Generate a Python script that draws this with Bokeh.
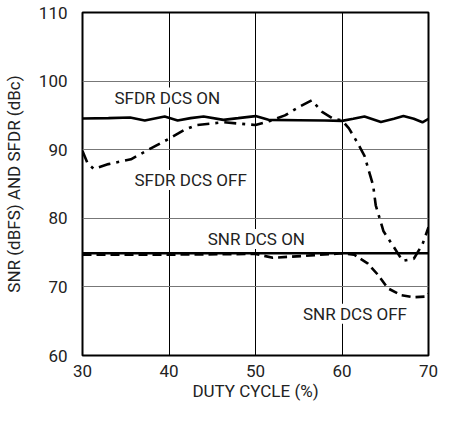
from bokeh.plotting import figure
from bokeh.models import Range1d, FixedTicker, Label
from bokeh.embed import file_html
from bokeh.resources import INLINE

# ---- data ----
x_ticks = [30, 40, 50, 60, 70]
y_ticks = [60, 70, 80, 90, 100, 110]

sfdr_on_x = [30, 33, 35.5, 37.2, 39.5, 41, 42.5, 44, 46.3, 48, 50, 51.5, 55, 58, 60, 61.3, 62.6, 64.5, 66, 67.1, 68.3, 69.3, 70]
sfdr_on_y = [94.55, 94.6, 94.7, 94.25, 94.85, 94.25, 94.6, 94.85, 94.35, 94.6, 94.9, 94.35, 94.3, 94.25, 94.2, 94.5, 94.85, 94.05, 94.5, 94.9, 94.5, 94.0, 94.5]

sfdr_off_x = [30, 30.6, 31.3, 33, 35.6, 37.9, 40, 41.8, 43.2, 46.3, 50, 51.7, 53.4, 55, 56.5, 57.7, 59, 60, 60.8, 61.7, 62.6, 63.6, 63.9, 64.8, 66, 67, 68.3, 69.3, 70]
sfdr_off_y = [89.8, 88.0, 87.2, 87.9, 88.6, 90.2, 91.6, 92.9, 93.6, 94.0, 93.6, 94.2, 95.0, 96.2, 97.2, 95.5, 94.5, 94.3, 93.1, 91.2, 89.1, 84.8, 81.9, 78.1, 75.8, 73.8, 74.1, 76.2, 78.7]

snr_on_x = [30, 40, 50, 60, 70]
snr_on_y = [74.9, 74.9, 74.9, 74.9, 74.9]

snr_off_x = [30, 40, 50, 52, 55.4, 60, 61.4, 63, 64.2, 65.3, 66.8, 68.3, 69.8, 70]
snr_off_y = [74.7, 74.7, 74.8, 74.25, 74.5, 74.9, 74.7, 73.4, 71.7, 69.8, 68.8, 68.5, 68.6, 69.0]

series_labels = ["SFDR DCS ON", "SFDR DCS OFF", "SNR DCS ON", "SNR DCS OFF"]
label_x = [39.8, 42.5, 50.1, 61.5]
label_y = [97.6, 85.6, 77.0, 66.1]

FONT = "Roboto"
FS = "17px"
TXT = "#222222"

p = figure(width=438, height=405, output_backend="svg", toolbar_location=None,
           x_range=Range1d(30, 70), y_range=Range1d(60, 110),
           min_border_left=76, min_border_right=10, min_border_top=12, min_border_bottom=50)

p.outline_line_color = "black"
p.outline_line_width = 2
p.background_fill_color = "white"
p.border_fill_color = "white"

for ax in (p.xaxis[0], p.yaxis[0]):
    ax.axis_line_color = None
    ax.major_tick_line_color = None
    ax.minor_tick_line_color = None
    ax.major_label_text_font = FONT
    ax.major_label_text_font_size = FS
    ax.major_label_text_color = TXT
    ax.axis_label_text_font = FONT
    ax.axis_label_text_font_size = FS
    ax.axis_label_text_font_style = "normal"
    ax.axis_label_text_color = TXT

p.xaxis.ticker = FixedTicker(ticks=x_ticks)
p.yaxis.ticker = FixedTicker(ticks=y_ticks)
p.xaxis.axis_label = "DUTY CYCLE (%)"
p.yaxis.axis_label = "SNR (dBFS) AND SFDR (dBc)"
p.xaxis.major_label_standoff = 3
p.yaxis.major_label_standoff = 9
p.xaxis.axis_label_standoff = 1
p.yaxis.axis_label_standoff = 12

p.xgrid.grid_line_color = "black"
p.xgrid.grid_line_width = 1
p.ygrid.grid_line_color = "#777777"
p.ygrid.grid_line_width = 1

p.line(sfdr_on_x, sfdr_on_y, line_color="black", line_width=2.6)
p.line(sfdr_off_x, sfdr_off_y, line_color="black", line_width=2.6, line_dash="12 6 3 6")
p.line(snr_on_x, snr_on_y, line_color="black", line_width=2.6)
p.line(snr_off_x, snr_off_y, line_color="black", line_width=2.6, line_dash="9 5")

for t, lx, ly in zip(series_labels, label_x, label_y):
    p.add_layout(Label(x=lx, y=ly, text=t, text_align="center", text_baseline="middle",
                       text_font=FONT, text_font_size=FS, text_color=TXT,
                       background_fill_color="white", background_fill_alpha=1.0))

open("out.html", "w").write(file_html(p, INLINE))
